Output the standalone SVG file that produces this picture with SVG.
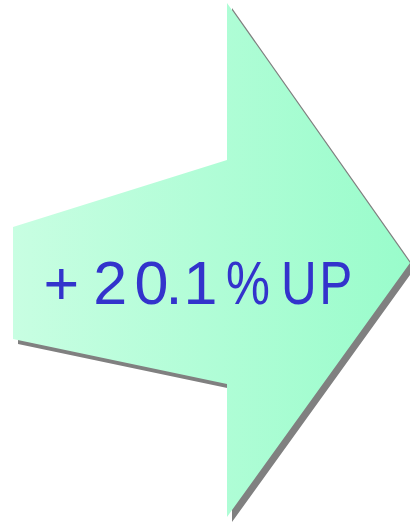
<svg xmlns="http://www.w3.org/2000/svg" width="410" height="522" viewBox="0 0 410 522">
<defs>
<linearGradient id="g" x1="0" y1="0" x2="1" y2="0">
<stop offset="0" stop-color="#C8FEE2"/>
<stop offset="1" stop-color="#99FCCB"/>
</linearGradient>
<style>
.lbl{font-family:"Liberation Sans",Arial,sans-serif;font-size:61px;fill:#3333CC}
</style>
</defs>
<g id="arrow">
<polygon points="18,232 232,165 232,8 415,268 232,522 232,389 18,344" fill="#808080"/>
<polygon points="13,227 227,160 227,3 410,263 227,517 227,384 13,339" fill="url(#g)"/>
</g>
<g id="label">
<text class="lbl" y="304"><tspan x="43.6 78 93.2 134.5 165.4 183.4 212">+ 20.1 </tspan><tspan x="225.9" textLength="43.9" lengthAdjust="spacingAndGlyphs">%</tspan><tspan x="281.1" textLength="35.7" lengthAdjust="spacingAndGlyphs">U</tspan><tspan x="319.2" textLength="33" lengthAdjust="spacingAndGlyphs">P</tspan></text>
</g>
</svg>
